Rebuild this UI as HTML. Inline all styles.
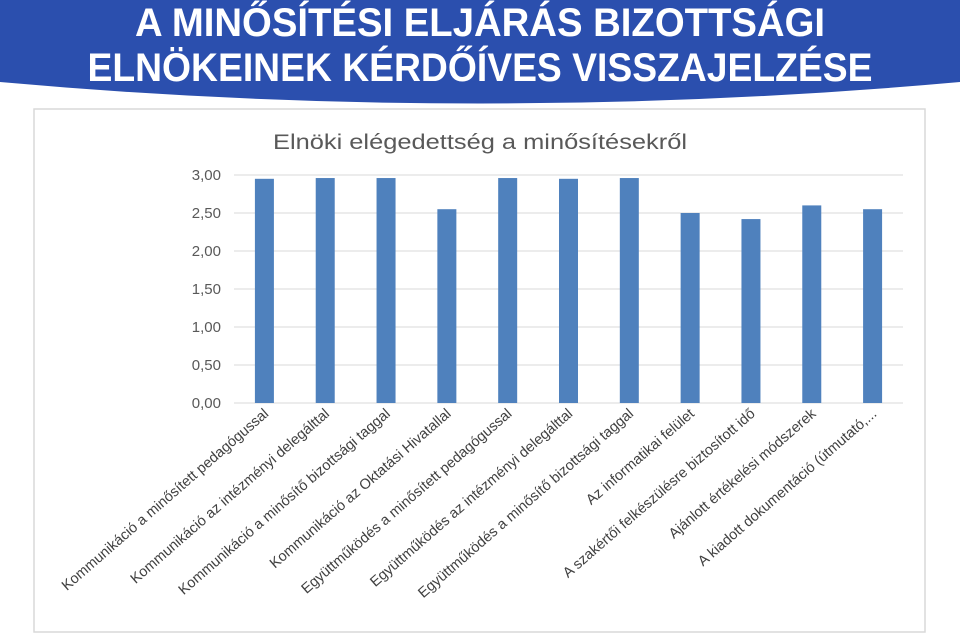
<!DOCTYPE html>
<html><head><meta charset="utf-8"><style>
html,body{margin:0;padding:0;width:960px;height:635px;overflow:hidden;background:#fff;font-family:"Liberation Sans",sans-serif}
</style></head><body>
<svg width="960" height="635" viewBox="0 0 960 635" xmlns="http://www.w3.org/2000/svg">
<path d="M0 0 H960 V82 Q480 125 0 82 Z" fill="#2b4fae"/>
<text x="480" y="36" text-anchor="middle" fill="#fff" font-size="40" font-weight="bold" font-family="Liberation Sans, sans-serif" textLength="690" lengthAdjust="spacingAndGlyphs">A MINŐSÍTÉSI ELJÁRÁS BIZOTTSÁGI</text>
<text x="480" y="81" text-anchor="middle" fill="#fff" font-size="40" font-weight="bold" font-family="Liberation Sans, sans-serif" textLength="785" lengthAdjust="spacingAndGlyphs">ELNÖKEINEK KÉRDŐÍVES VISSZAJELZÉSE</text>
<rect x="34" y="109" width="891" height="523" fill="#fff" stroke="#d9d9d9" stroke-width="1.5"/>
<text x="480" y="149" text-anchor="middle" fill="#595959" font-size="21" textLength="414" lengthAdjust="spacingAndGlyphs">Elnöki elégedettség a minősítésekről</text>
<g id="grid"></g><g id="bars"></g><g id="xlabels"></g>
</svg>
<script>
const categories=["Kommunikáció a minősített pedagógussal","Kommunikáció az intézményi delegálttal","Kommunikáció a minősítő bizottsági taggal","Kommunikáció az Oktatási Hivatallal","Együttműködés a minősített pedagógussal","Együttműködés az intézményi delegálttal","Együttműködés a minősítő bizottsági taggal","Az informatikai felület","A szakértői felkészülésre biztosított idő","Ajánlott értékelési módszerek","A kiadott dokumentáció (útmutató,..."];
const values=[2.95,2.96,2.96,2.55,2.96,2.95,2.96,2.50,2.42,2.60,2.55];
const ticks=[0,0.5,1,1.5,2,2.5,3];
const tickLabels=["0,00","0,50","1,00","1,50","2,00","2,50","3,00"];
const NS="http://www.w3.org/2000/svg";
const x0=234,x1=903,y0=403,yTop=175,ymax=3;
const y=v=>y0-(v/ymax)*(y0-yTop);
const band=(x1-x0)/categories.length;
const xc=i=>x0+band*(i+0.5);
const grid=document.getElementById('grid'),bars=document.getElementById('bars'),xl=document.getElementById('xlabels');
ticks.forEach((t,i)=>{
 const l=document.createElementNS(NS,'line');
 l.setAttribute('x1',x0);l.setAttribute('x2',x1);l.setAttribute('y1',y(t));l.setAttribute('y2',y(t));
 l.setAttribute('stroke','#d9d9d9');l.setAttribute('stroke-width','1');
 
 
 grid.appendChild(l);
 const tx=document.createElementNS(NS,'text');
 tx.setAttribute('x',221);tx.setAttribute('y',y(t)+5);tx.setAttribute('text-anchor','end');
 tx.setAttribute('font-size','15');tx.setAttribute('fill','#595959');
 tx.textContent=tickLabels[i];
 
 
 grid.appendChild(tx);
});
values.forEach((v,i)=>{
 const r=document.createElementNS(NS,'rect');
 r.setAttribute('x',xc(i)-9.5);r.setAttribute('width',19);
 r.setAttribute('y',y(v));r.setAttribute('height',y0-y(v));
 r.setAttribute('fill','#4f81bd');
 
 
 bars.appendChild(r);
 const t=document.createElementNS(NS,'text');
 const tx=xc(i)+5,ty=y0+12;
 t.setAttribute('x',tx);t.setAttribute('y',ty);t.setAttribute('text-anchor','end');
 t.setAttribute('font-size','14.5');t.setAttribute('fill','#404040');
 t.setAttribute('transform','rotate(-41 '+tx+' '+ty+')');
 t.textContent=categories[i];
 
 
 xl.appendChild(t);
});
</script>
</body></html>
